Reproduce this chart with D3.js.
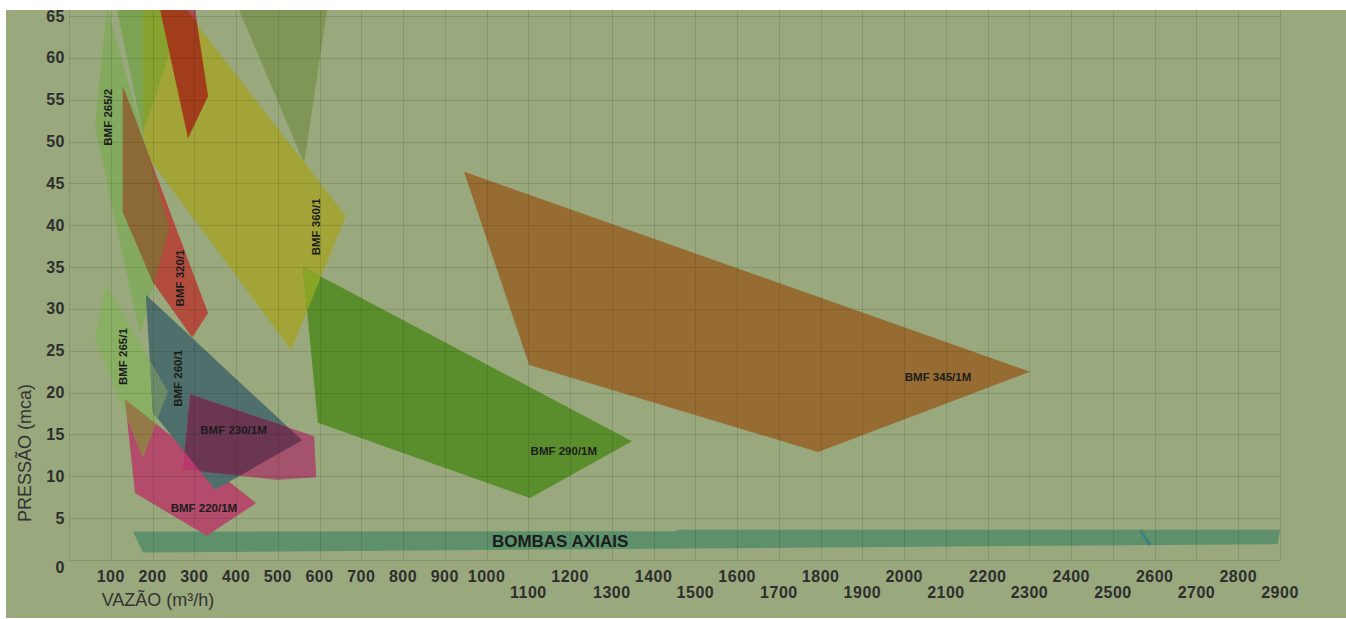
<!DOCTYPE html>
<html>
<head>
<meta charset="utf-8">
<script src="https://cdn.jsdelivr.net/npm/d3@7"></script>
<style>
  body { margin: 0; background: #fff; }
  svg { display: block; }
</style>
</head>
<body>
<div id="chart"></div>
<script>
// Axis ticks: flow (m³/h) and pressure (mca)
const xTicksTop = [100, 200, 300, 400, 500, 600, 700, 800, 900, 1000, 1200, 1400, 1600, 1800, 2000, 2200, 2400, 2600, 2800];
const xTicksBottom = [1100, 1300, 1500, 1700, 1900, 2100, 2300, 2500, 2700, 2900];
const yTicks = [0, 5, 10, 15, 20, 25, 30, 35, 40, 45, 50, 55, 60, 65];

// Pump operating areas, [flow, pressure]
const bmf265_2 = [[91, 66], [62, 51.7], [170, 26.9], [240, 39.7]];
const greenTop = [[114, 66], [177, 66], [177, 51]];
const yellowGreenTop = [[177, 66], [277, 66], [177, 50.9]];
const redTop = [[217, 66], [301, 66], [333, 55.4], [285, 50.4]];
const pinkTop = [[278, 66], [302, 66], [306, 64.4]];
const oliveTop = [[405, 66], [619, 66], [563, 47.4]];
const bmf360_1 = [[275, 66], [663, 41.1], [532, 25.1], [194, 47.8], [177, 50.9]];
const bmf320_1 = [[129, 56.6], [333, 29.5], [295, 26.6], [201, 33.2], [129, 41.6]];
const bmf265_1 = [[89, 32.9], [62, 26.5], [177, 12.3], [237, 20.1]];
const bmf260_1 = [[184, 31.7], [558, 14.3], [350, 8.4], [201, 17.6]];
const bmf230_1M = [[290, 19.8], [587, 14.8], [592, 9.9], [498, 9.6], [273, 10.8]];
const bmf220_1M = [[134, 19.2], [448, 6.8], [330, 2.9], [158, 8.0]];
const bmf290_1M = [[560, 35], [1348, 14.2], [1104, 7.4], [596, 16.4]];
const bmf345_1M = [[946, 46.4], [2301, 22.5], [1794, 12.9], [1102, 23.3]];
const axiais = [[153, 3.4], [1450, 3.45], [1460, 3.6], [2900, 3.6], [2895, 1.9], [177, 0.9]];
const axiaisMark = [[2565, 3.58], [2589, 1.79]];

// Svg
const svg = d3.select("#chart")
  .append("svg")
    .attr("width", 1346)
    .attr("height", 619);

// Scales
const xScale = d3.scaleLinear().domain([0, 2900]).range([69, 1280]);
const yScale = d3.scaleLinear().domain([0, 65]).range([560, 16]);

const area = d3.line()
  .x(d => xScale(d[0]))
  .y(d => yScale(d[1]))
  .curve(d3.curveLinearClosed);

// Background
svg.append("rect")
    .attr("x", 6)
    .attr("y", 10)
    .attr("width", 1340)
    .attr("height", 608)
    .attr("fill", "#99a97d");

svg.append("clipPath")
    .attr("id", "plot-clip")
  .append("rect")
    .attr("x", 6)
    .attr("y", 10)
    .attr("width", 1340)
    .attr("height", 608);

const plot = svg.append("g").attr("clip-path", "url(#plot-clip)");

// Areas, bottom first
const layers = [
  { pts: axiais, fill: "#5e916b" },
  { pts: oliveTop, fill: "#7f9656" },
  { pts: bmf265_2, fill: "#84aa5f" },
  { pts: greenTop, fill: "#7ca354" },
  { pts: bmf360_1, fill: "#a3a437" },
  { pts: yellowGreenTop, fill: "#87a22f" },
  { pts: redTop, fill: "#a23d1c" },
  { pts: pinkTop, fill: "#a8505a" },
  { pts: bmf320_1, fill: "#b24d3e" },
  { pts: bmf290_1M, fill: "#5a8e2c" },
  { pts: bmf345_1M, fill: "#966c33" },
  { pts: bmf220_1M, fill: "#b34b6b" },
  { pts: bmf265_1, fill: "#89af63" },
  { pts: bmf260_1, fill: "#4e6f6b" },
  { pts: bmf230_1M, fill: "#a5526c" }
];

plot.selectAll("path.area")
  .data(layers)
  .join("path")
    .attr("class", "area")
    .attr("d", d => area(d.pts))
    .attr("fill", d => d.fill);

// Overlapping parts get their own colour
const overlaps = [
  { a: bmf320_1, b: bmf265_2, fill: "#8b6a36" },
  { a: bmf290_1M, b: bmf360_1, fill: "#88a526" },
  { a: bmf265_1, b: bmf220_1M, fill: "#937a46" },
  { a: bmf265_1, b: bmf260_1, fill: "#6b8c69" },
  { a: bmf230_1M, b: bmf220_1M, fill: "#b8386d" },
  { a: bmf230_1M, b: bmf260_1, fill: "#6a3652" }
];

overlaps.forEach((o, i) => {
  svg.append("clipPath")
      .attr("id", "ov" + i)
    .append("path")
      .attr("d", area(o.b));
  plot.append("path")
      .attr("d", area(o.a))
      .attr("clip-path", `url(#ov${i})`)
      .attr("fill", o.fill);
});

plot.append("path")
    .attr("d", d3.line().x(d => xScale(d[0])).y(d => yScale(d[1]))(axiaisMark))
    .attr("stroke", "#3d8082")
    .attr("stroke-width", 3)
    .attr("fill", "none");

// Grid
const xGrid = [0, ...xTicksTop, ...xTicksBottom].sort((a, b) => a - b);

plot.selectAll("line.vgrid")
  .data(xGrid)
  .join("line")
    .attr("class", "vgrid")
    .attr("x1", d => Math.round(xScale(d)) + 0.5)
    .attr("x2", d => Math.round(xScale(d)) + 0.5)
    .attr("y1", 10)
    .attr("y2", yScale(0))
    .attr("stroke", "#000")
    .attr("stroke-opacity", 0.11);

plot.selectAll("line.hgrid")
  .data(yTicks)
  .join("line")
    .attr("class", "hgrid")
    .attr("x1", xScale(0))
    .attr("x2", xScale(2900))
    .attr("y1", d => Math.round(yScale(d)) + 0.5)
    .attr("y2", d => Math.round(yScale(d)) + 0.5)
    .attr("stroke", "#000")
    .attr("stroke-opacity", 0.11);

// Pump labels
const labels = [
  { text: "BMF 265/2", at: [93, 52.9], rotate: -90 },
  { text: "BMF 265/1", at: [129, 24.3], rotate: -90 },
  { text: "BMF 320/1", at: [266, 33.7], rotate: -90 },
  { text: "BMF 360/1", at: [592, 39.8], rotate: -90 },
  { text: "BMF 260/1", at: [261, 21.7], rotate: -90 },
  { text: "BMF 230/1M", at: [394, 15.5], rotate: 0 },
  { text: "BMF 220/1M", at: [323, 6.2], rotate: 0 },
  { text: "BMF 290/1M", at: [1185, 13], rotate: 0 },
  { text: "BMF 345/1M", at: [2081, 21.9], rotate: 0 }
];

plot.selectAll("text.pump")
  .data(labels)
  .join("text")
    .attr("class", "pump")
    .attr("transform", d => `translate(${xScale(d.at[0])}, ${yScale(d.at[1])}) rotate(${d.rotate})`)
    .attr("text-anchor", "middle")
    .attr("dominant-baseline", "central")
    .text(d => d.text)
    .style("font-family", "'Liberation Sans', Arial, sans-serif")
    .style("font-weight", "bold")
    .style("font-size", "11.5px")
    .style("fill", "#1c1c1c");

plot.append("text")
    .attr("x", xScale(1176))
    .attr("y", yScale(2.27))
    .attr("text-anchor", "middle")
    .attr("dominant-baseline", "central")
    .text("BOMBAS AXIAIS")
    .style("font-family", "'Liberation Sans', Arial, sans-serif")
    .style("font-weight", "bold")
    .style("font-size", "17px")
    .style("fill", "#1c1c1c");

// Tick labels
const tickFont = sel => sel
  .style("font-family", "'Liberation Sans', Arial, sans-serif")
  .style("font-weight", "bold")
  .style("font-size", "16px")
  .style("letter-spacing", "0.5px")
  .style("fill", "#2e2e2e");

svg.selectAll("text.ytick")
  .data(yTicks)
  .join("text")
    .attr("class", "ytick")
    .attr("x", 65)
    .attr("y", d => yScale(d) + (d === 0 ? 7 : 0))
    .attr("text-anchor", "end")
    .attr("dominant-baseline", "central")
    .text(d => d)
    .call(tickFont);

svg.selectAll("text.xtop")
  .data(xTicksTop)
  .join("text")
    .attr("class", "xtop")
    .attr("x", d => xScale(d))
    .attr("y", 576)
    .attr("text-anchor", "middle")
    .attr("dominant-baseline", "central")
    .text(d => d)
    .call(tickFont);

svg.selectAll("text.xbottom")
  .data(xTicksBottom)
  .join("text")
    .attr("class", "xbottom")
    .attr("x", d => xScale(d))
    .attr("y", 592)
    .attr("text-anchor", "middle")
    .attr("dominant-baseline", "central")
    .text(d => d)
    .call(tickFont);

// Axis titles
svg.append("text")
    .attr("transform", "translate(25, 453) rotate(-90)")
    .attr("text-anchor", "middle")
    .attr("dominant-baseline", "central")
    .text("PRESSÃO (mca)")
    .style("font-family", "'Liberation Sans', Arial, sans-serif")
    .style("font-size", "18px")
    .style("fill", "#333");

svg.append("text")
    .attr("x", 158)
    .attr("y", 600)
    .attr("text-anchor", "middle")
    .attr("dominant-baseline", "central")
    .text("VAZÃO (m³/h)")
    .style("font-family", "'Liberation Sans', Arial, sans-serif")
    .style("font-size", "18px")
    .style("fill", "#333");
</script>
</body>
</html>
